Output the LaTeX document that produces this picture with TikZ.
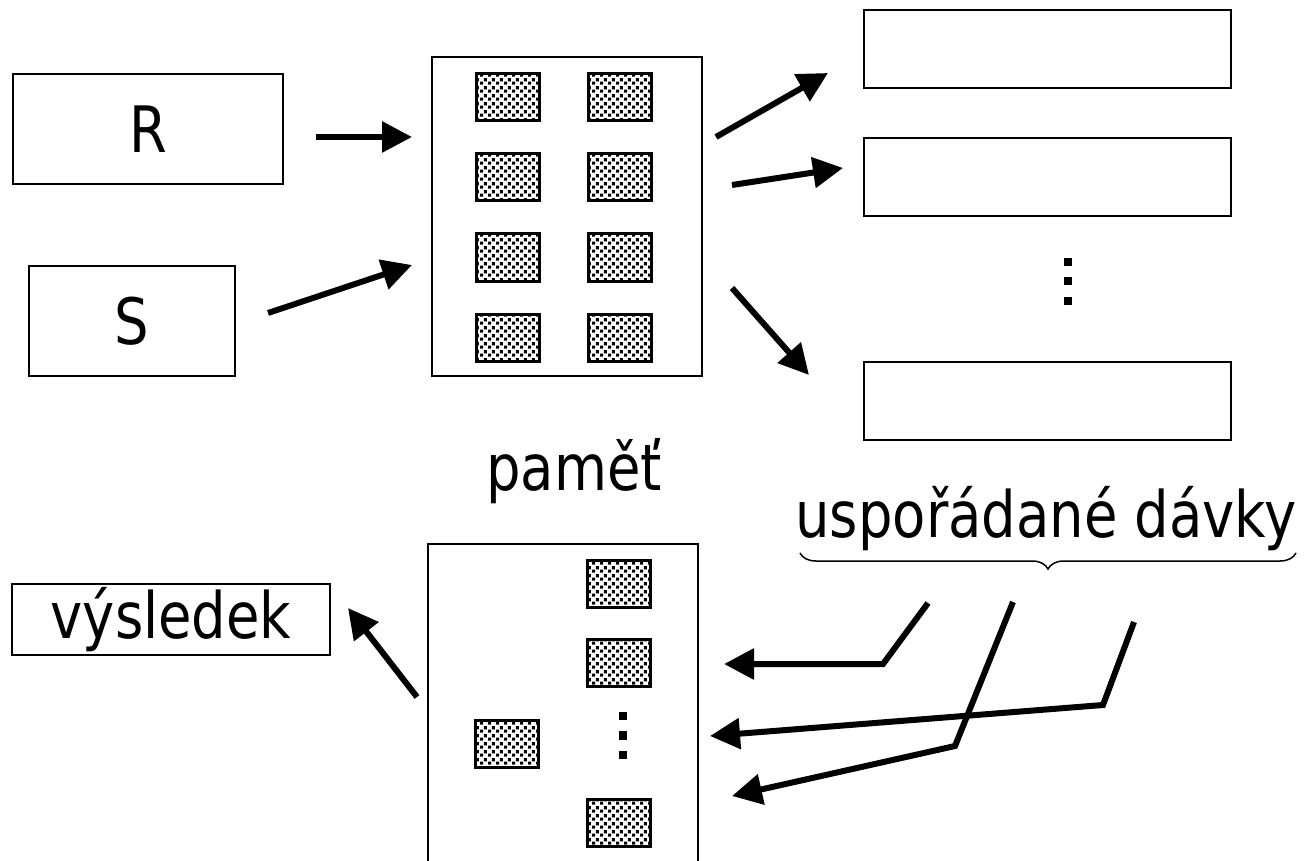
\documentclass[tikz,border=0pt]{standalone}
\usepackage{fontspec}
\setmainfont{DejaVu Sans}[FakeStretch=0.85]
\usetikzlibrary{arrows.meta,patterns.meta,decorations.pathreplacing}
\tikzdeclarepattern{
  name=memdots,
  type=colored,
  bounding box={(0pt,0pt) and (8pt,8pt)},
  tile size={(8pt,8pt)},
  code={
    \fill[black] (0.2pt,0.4pt) rectangle (3.6pt,3.8pt);
    \fill[black] (4.3pt,4.1pt) rectangle (7.7pt,7.5pt);
  }
}
\begin{document}
\begin{tikzpicture}[x=1pt,y=-1pt,
  bigbox/.style={draw,line width=2pt,inner sep=0pt},
  blk/.style={draw,line width=3pt,pattern=memdots,inner sep=0pt,minimum width=63pt,minimum height=47pt},
  arr/.style={line width=6pt,-{Triangle[length=30pt,width=30pt]}},
  dotsq/.style={fill=black,inner sep=0pt,minimum size=8.5pt},
  lbl/.style={font=\fontsize{64}{70}\selectfont}]
\fill[white] (0,0) rectangle (1309,861);
\useasboundingbox (0,0) rectangle (1309,861);

% input relations
\node[bigbox,lbl,minimum width=270pt,minimum height=110pt] (R) at (148,129) {R};
\node[bigbox,lbl,minimum width=206pt,minimum height=110pt] (S) at (132,321) {S};

% memory
\node[bigbox,minimum width=270pt,minimum height=319pt] (mem) at (567,216.5) {};
\foreach \r/\y in {1/97,2/177.5,3/257.5,4/337.5}{
  \node[blk] (ma\r) at (508,\y) {};
  \node[blk] (mb\r) at (620,\y) {};
}
\node[lbl,anchor=base] (pamet) at (574,490) {paměť};

% sorted runs
\node[bigbox,minimum width=367pt,minimum height=78pt] (q1) at (1047.5,49) {};
\node[bigbox,minimum width=367pt,minimum height=78pt] (q2) at (1047.5,177) {};
\node[bigbox,minimum width=367pt,minimum height=78pt] (q3) at (1047.5,401) {};
\node[dotsq] (qd1) at (1068,262) {};
\node[dotsq] (qd2) at (1068,281) {};
\node[dotsq] (qd3) at (1068,301) {};
\node[lbl,anchor=base] (runs) at (1046,537) {uspořádané dávky};
\coordinate (brL) at (800,553);
\coordinate (brR) at (1296,553);
\draw[line width=1.5pt,decorate,decoration={brace,mirror,amplitude=16pt}] (brL) -- (brR);

% merge memory
\node[bigbox,minimum width=270pt,minimum height=332pt] (merge) at (563,710) {};
\node[blk] (mr1) at (619,583.5) {};
\node[blk] (mr2) at (619,663) {};
\node[blk] (mr3) at (619,823) {};
\node[blk] (ml1) at (506.5,743.5) {};
\node[dotsq] (md1) at (623,716) {};
\node[dotsq] (md2) at (623,735.5) {};
\node[dotsq] (md3) at (623,755) {};

% result
\node[bigbox,lbl,minimum width=318pt,minimum height=71pt] (vys) at (171,619.5) {výsledek};

% arrow end points
\coordinate (aR0) at (316,137);  \coordinate (aR1) at (412,137);
\coordinate (aS0) at (268,313);  \coordinate (aS1) at (412,265);
\coordinate (o10) at (716,137);  \coordinate (o11) at (828,73);
\coordinate (o20) at (732,185);  \coordinate (o21) at (843,168);
\coordinate (o30) at (732,288);  \coordinate (o31) at (809,375);
\coordinate (rs0) at (417,697);  \coordinate (rs1) at (348,608);
\coordinate (m10) at (928,603);  \coordinate (m1b) at (883,664);  \coordinate (m11) at (724,664);
\coordinate (m20) at (1013,602); \coordinate (m2b) at (955,746);  \coordinate (m21) at (732,796);
\coordinate (m30) at (1134,622); \coordinate (m3b) at (1103,705); \coordinate (m31) at (710,736);

\draw[arr] (aR0) -- (aR1);
\draw[arr] (aS0) -- (aS1);
\draw[arr] (o10) -- (o11);
\draw[arr] (o20) -- (o21);
\draw[arr] (o30) -- (o31);
\draw[arr] (rs0) -- (rs1);
\draw[arr] (m10) -- (m1b) -- (m11);
\draw[arr] (m20) -- (m2b) -- (m21);
\draw[arr] (m30) -- (m3b) -- (m31);
\end{tikzpicture}
\end{document}
